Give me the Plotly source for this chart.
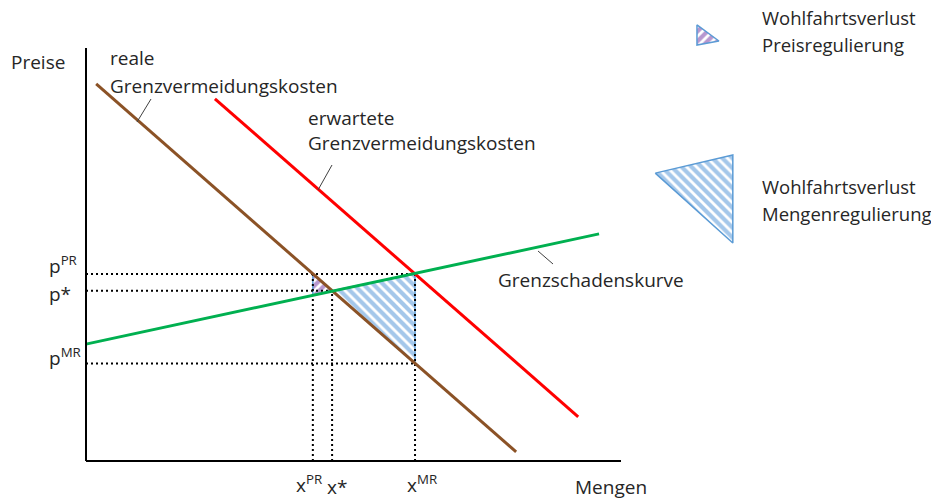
import plotly.graph_objects as go

# canvas and axis geometry (pixels); the page body adds an 8px margin
W, H = 939, 503
PAGE_MARGIN = 8
ORIGIN_PX = (86, 461)
PX_PER_X = 5.35
PX_PER_Y = 4.13

# curves: (quantity, price)
mac_real_x = [1.9, 80.4]
mac_real_y = [91.3, 2.2]
mac_exp_x = [24.1, 92.0]
mac_exp_y = [87.7, 10.7]
damage_x = [0.0, 95.9]
damage_y = [28.3, 55.0]

# regulation outcomes
x_pr, x_star, x_mr = 42.4, 46.0, 61.5
p_pr, p_star, p_mr = 45.3, 41.2, 23.6
p_damage_at_x_pr = 40.1
axis_max = 100

# legend swatches (same units as the chart)
swatch_pr_x = [114.2, 114.2, 118.3]
swatch_pr_y = [105.6, 100.7, 101.7]
swatch_mr_x = [106.4, 120.9, 120.9]
swatch_mr_y = [69.7, 74.1, 52.8]

FONT = "Open Sans"
TXT = "#262626"
BROWN = "#8B5226"
RED = "#FF0000"
GREEN = "#00B050"
BLUE = "#5B9BD5"
HATCH_BLUE = "#4A8FD6"
PURPLE = "#7030A0"


def paper(px, py):
    return (px - PAGE_MARGIN) / W, 1 - (py - PAGE_MARGIN) / H


fig = go.Figure()


def hatched(xs, ys, color, shape):
    fig.add_trace(go.Scatter(
        x=xs + xs[:1], y=ys + ys[:1],
        mode="lines", fill="toself",
        fillcolor="white",
        fillpattern=dict(shape=shape, fgcolor=color, bgcolor="white",
                         size=7, solidity=0.6),
        line=dict(color=BLUE, width=1.5),
        hoverinfo="skip", showlegend=False
    ))


# welfare loss triangles
hatched([x_pr, x_pr, x_star], [p_pr, p_damage_at_x_pr, p_star], PURPLE, "/")
hatched([x_star, x_mr, x_mr], [p_star, p_pr, p_mr], HATCH_BLUE, "\\")
hatched(swatch_pr_x, swatch_pr_y, PURPLE, "/")
hatched(swatch_mr_x, swatch_mr_y, HATCH_BLUE, "\\")

# dotted guide lines
guides = [
    ([0, x_mr], [p_pr, p_pr]),
    ([0, x_star], [p_star, p_star]),
    ([0, x_mr], [p_mr, p_mr]),
    ([x_pr, x_pr], [0, p_pr]),
    ([x_star, x_star], [0, p_star]),
    ([x_mr, x_mr], [0, p_pr]),
]
for gx, gy in guides:
    fig.add_trace(go.Scatter(
        x=gx, y=gy, mode="lines",
        line=dict(color="black", width=2, dash="2px,3px"),
        hoverinfo="skip", showlegend=False
    ))

# curves
for cx, cy, col in [(mac_real_x, mac_real_y, BROWN),
                    (mac_exp_x, mac_exp_y, RED),
                    (damage_x, damage_y, GREEN)]:
    fig.add_trace(go.Scatter(
        x=cx, y=cy, mode="lines",
        line=dict(color=col, width=3),
        hoverinfo="skip", showlegend=False
    ))

shapes = [
    dict(type="line", xref="x", yref="y", x0=0, y0=0, x1=axis_max, y1=0,
         line=dict(color="black", width=2)),
    dict(type="line", xref="x", yref="y", x0=0, y0=0, x1=0, y1=axis_max,
         line=dict(color="black", width=2)),
]
# leader lines from labels to curves
for (ax0, ay0), (ax1, ay1) in [((151, 99), (137, 122)),
                               ((332, 165), (318, 190)),
                               ((538, 251), (553, 264))]:
    px0, py0 = paper(ax0, ay0)
    px1, py1 = paper(ax1, ay1)
    shapes.append(dict(type="line", xref="paper", yref="paper",
                       x0=px0, y0=py0, x1=px1, y1=py1,
                       line=dict(color="#404040", width=1)))

annotations = []


def label(text, px, py, size=19, anchor="left"):
    x, y = paper(px, py)
    annotations.append(dict(
        text=text, x=x, y=y, xref="paper", yref="paper",
        xanchor=anchor, yanchor="middle", showarrow=False,
        font=dict(family=FONT, size=size, color=TXT)
    ))


label("Preise", 9, 62)
label("reale", 108, 58)
label("Grenzvermeidungskosten", 108, 86)
label("erwartete", 306, 118)
label("Grenzvermeidungskosten", 306, 143)
label("Grenzschadenskurve", 496, 280)
label("p<sup>PR</sup>", 47, 265)
label("p*", 47, 294)
label("p<sup>MR</sup>", 47, 357)
label("x<sup>PR</sup>", 294, 484)
label("x*", 325, 487)
label("x<sup>MR</sup>", 405, 484)
label("Mengen", 573, 487)
label("Wohlfahrtsverlust", 760, 17, size=18.5)
label("Preisregulierung", 760, 45, size=18.5)
label("Wohlfahrtsverlust", 760, 186, size=18.5)
label("Mengenregulierung", 760, 213, size=18.5)

ox = ORIGIN_PX[0] - PAGE_MARGIN
oy = ORIGIN_PX[1] - PAGE_MARGIN
x_range = [-ox / PX_PER_X, (W - ox) / PX_PER_X]
y_range = [-(H - oy) / PX_PER_Y, oy / PX_PER_Y]

fig.update_layout(
    width=W, height=H,
    margin=dict(l=0, r=0, t=0, b=0),
    paper_bgcolor="white", plot_bgcolor="white",
    xaxis=dict(range=x_range, visible=False, fixedrange=True),
    yaxis=dict(range=y_range, visible=False, fixedrange=True),
    shapes=shapes,
    annotations=annotations,
    showlegend=False
)

fig.write_html("out.html")
